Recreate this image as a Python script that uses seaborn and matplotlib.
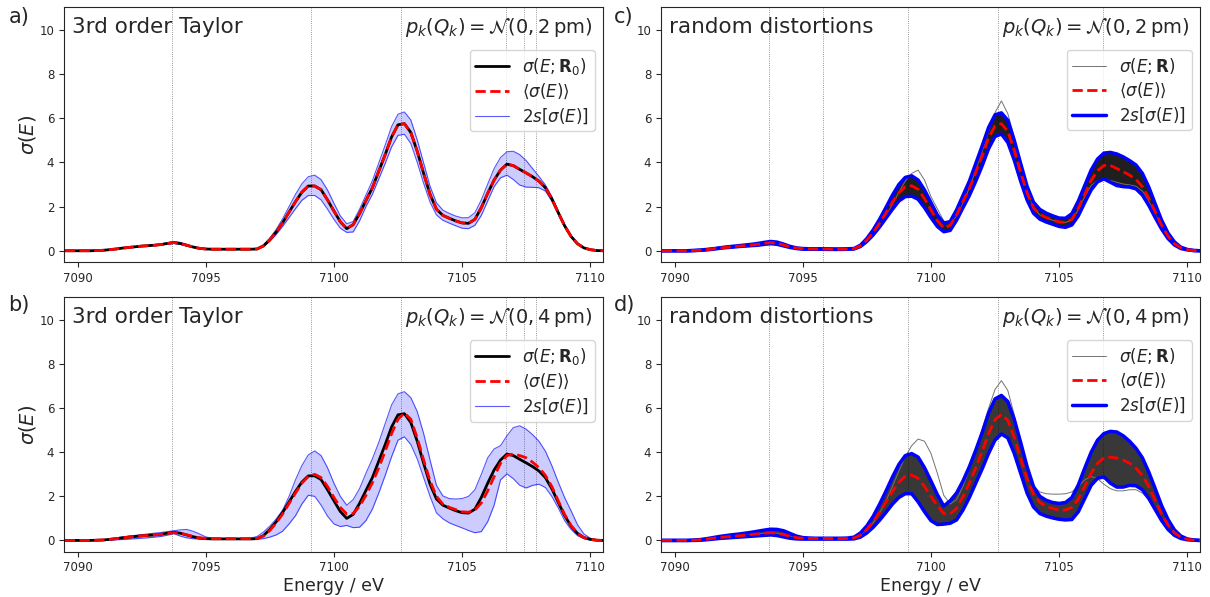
import numpy as np
import seaborn as sns
import matplotlib.pyplot as plt
from matplotlib.lines import Line2D

sns.set_style("ticks")
plt.rcParams['font.family'] = ['DejaVu Sans']
plt.rcParams['mathtext.fontset'] = 'dejavusans'

# Energy grid (eV), 0.25 eV steps
energy = np.linspace(7089.5, 7110.5, 85)

# stick positions (dotted lines)
sticks_taylor = [7093.7, 7099.1, 7102.6, 7106.7, 7107.4, 7107.9]
sticks_random = [7093.7, 7095.8, 7099.1, 7102.6, 7106.7]

# reference spectrum sigma(E; R0)
sigma_r0 = [
    0, 0, 0, 0, 0, 0.01, 0.02, 0.05, 0.08, 0.12,
    0.15, 0.18, 0.21, 0.23, 0.25, 0.28, 0.33, 0.37, 0.33, 0.25,
    0.17, 0.11, 0.08, 0.07, 0.07, 0.07, 0.07, 0.07, 0.07, 0.07,
    0.08, 0.22, 0.50, 0.85, 1.27, 1.75, 2.22, 2.65, 2.93, 2.93,
    2.76, 2.30, 1.80, 1.31, 1.00, 1.18, 1.68, 2.27, 2.85, 3.60,
    4.35, 5.15, 5.70, 5.75, 5.35, 4.50, 3.50, 2.55, 1.88, 1.60,
    1.47, 1.35, 1.26, 1.24, 1.42, 1.95, 2.60, 3.20, 3.65, 3.92,
    3.85, 3.68, 3.52, 3.35, 3.15, 2.85, 2.35, 1.73, 1.13, 0.65,
    0.32, 0.13, 0.05, 0.01, 0.0]

# 3rd order Taylor, 2 pm (mean lies on top of sigma_r0)
taylor2_mean = sigma_r0
taylor2_hi = [
    0, 0, 0, 0, 0, 0.01, 0.02, 0.05, 0.09, 0.13,
    0.16, 0.19, 0.22, 0.25, 0.27, 0.31, 0.36, 0.41, 0.38, 0.29,
    0.19, 0.12, 0.09, 0.08, 0.08, 0.08, 0.08, 0.08, 0.08, 0.08,
    0.09, 0.25, 0.57, 0.97, 1.45, 2.00, 2.55, 3.03, 3.35, 3.42,
    3.22, 2.75, 2.15, 1.58, 1.22, 1.32, 1.88, 2.52, 3.17, 3.97,
    4.78, 5.62, 6.18, 6.28, 5.92, 5.02, 3.97, 2.92, 2.17, 1.84,
    1.69, 1.57, 1.49, 1.50, 1.72, 2.30, 3.02, 3.72, 4.22, 4.48,
    4.50, 4.35, 4.08, 3.72, 3.36, 2.98, 2.45, 1.80, 1.18, 0.68,
    0.34, 0.14, 0.05, 0.01, 0.0]
taylor2_lo = [
    0, 0, 0, 0, 0, 0.01, 0.02, 0.05, 0.08, 0.11,
    0.14, 0.17, 0.20, 0.22, 0.24, 0.26, 0.30, 0.33, 0.29, 0.22,
    0.15, 0.10, 0.07, 0.06, 0.06, 0.06, 0.06, 0.06, 0.06, 0.06,
    0.07, 0.19, 0.43, 0.74, 1.10, 1.50, 1.90, 2.28, 2.50, 2.50,
    2.30, 1.88, 1.42, 1.02, 0.83, 0.85, 1.35, 2.00, 2.55, 3.25,
    3.95, 4.70, 5.22, 5.27, 4.85, 4.00, 3.05, 2.20, 1.62, 1.38,
    1.25, 1.13, 1.02, 1.00, 1.15, 1.60, 2.25, 2.90, 3.30, 3.42,
    3.22, 2.97, 2.88, 2.87, 2.85, 2.70, 2.25, 1.66, 1.08, 0.62,
    0.30, 0.12, 0.04, 0.01, 0.0]

# 3rd order Taylor, 4 pm
taylor4_mean = [
    0, 0, 0, 0, 0, 0.01, 0.02, 0.05, 0.08, 0.12,
    0.15, 0.18, 0.21, 0.23, 0.25, 0.28, 0.32, 0.35, 0.33, 0.26,
    0.18, 0.12, 0.09, 0.08, 0.08, 0.08, 0.08, 0.08, 0.08, 0.08,
    0.09, 0.20, 0.45, 0.80, 1.20, 1.68, 2.15, 2.60, 2.90, 3.00,
    2.85, 2.45, 1.95, 1.50, 1.20, 1.22, 1.55, 2.05, 2.62, 3.30,
    4.05, 4.85, 5.50, 5.78, 5.50, 4.65, 3.65, 2.70, 2.00, 1.65,
    1.50, 1.40, 1.30, 1.28, 1.38, 1.70, 2.25, 2.90, 3.50, 3.85,
    3.92, 3.85, 3.75, 3.55, 3.30, 2.95, 2.45, 1.80, 1.18, 0.68,
    0.33, 0.13, 0.05, 0.01, 0.0]
taylor4_hi = [
    0, 0, 0, 0, 0, 0.01, 0.03, 0.06, 0.11, 0.16,
    0.20, 0.23, 0.26, 0.30, 0.33, 0.36, 0.40, 0.44, 0.48, 0.50,
    0.42, 0.30, 0.16, 0.10, 0.09, 0.09, 0.09, 0.09, 0.09, 0.10,
    0.18, 0.38, 0.65, 0.98, 1.38, 2.00, 2.75, 3.40, 3.88, 4.06,
    3.85, 3.30, 2.60, 2.00, 1.60, 1.85, 2.35, 3.05, 3.70, 4.45,
    5.30, 6.15, 6.65, 6.75, 6.48, 5.85, 4.85, 3.65, 2.50, 2.02,
    1.90, 1.88, 1.90, 2.00, 2.30, 3.00, 3.75, 4.15, 4.30, 4.75,
    5.12, 5.20, 5.05, 4.80, 4.50, 4.05, 3.40, 2.65, 1.95, 1.35,
    0.72, 0.30, 0.10, 0.03, 0.0]
taylor4_lo = [
    0, 0, 0, 0, 0, 0, 0.01, 0.02, 0.03, 0.04,
    0.06, 0.08, 0.10, 0.12, 0.15, 0.18, 0.24, 0.31, 0.20, 0.12,
    0.08, 0.06, 0.05, 0.05, 0.05, 0.05, 0.05, 0.05, 0.05, 0.05,
    0.05, 0.08, 0.15, 0.25, 0.42, 0.75, 1.12, 1.65, 2.05, 2.00,
    1.60, 1.10, 0.75, 0.63, 0.68, 0.58, 0.60, 0.90, 1.42, 2.15,
    2.95, 3.80, 4.55, 4.70, 4.35, 3.70, 2.85, 2.00, 1.25, 0.98,
    0.80, 0.68, 0.57, 0.45, 0.35, 0.40, 0.85, 1.60, 2.75, 3.02,
    2.80, 2.50, 2.38, 2.50, 2.55, 2.40, 2.00, 1.48, 0.90, 0.50,
    0.22, 0.08, 0.02, 0.0, 0.0]

# random distortions, 2 pm
rand2_mean = [
    0, 0, 0, 0, 0, 0.01, 0.02, 0.05, 0.08, 0.12,
    0.15, 0.18, 0.21, 0.23, 0.26, 0.29, 0.33, 0.37, 0.34, 0.26,
    0.18, 0.12, 0.09, 0.08, 0.08, 0.08, 0.08, 0.07, 0.07, 0.08,
    0.09, 0.22, 0.48, 0.83, 1.25, 1.72, 2.20, 2.62, 2.90, 2.94,
    2.78, 2.35, 1.85, 1.36, 1.03, 1.15, 1.62, 2.22, 2.82, 3.55,
    4.30, 5.10, 5.65, 5.75, 5.40, 4.55, 3.55, 2.62, 1.95, 1.65,
    1.50, 1.40, 1.30, 1.28, 1.42, 1.92, 2.55, 3.18, 3.62, 3.86,
    3.86, 3.72, 3.58, 3.42, 3.22, 2.90, 2.38, 1.76, 1.15, 0.66,
    0.32, 0.13, 0.05, 0.01, 0.0]
rand2_hi = [
    0, 0, 0, 0, 0, 0.01, 0.03, 0.06, 0.09, 0.13,
    0.17, 0.20, 0.23, 0.26, 0.29, 0.33, 0.38, 0.42, 0.39, 0.30,
    0.20, 0.13, 0.10, 0.09, 0.09, 0.09, 0.09, 0.08, 0.08, 0.09,
    0.10, 0.25, 0.55, 0.95, 1.43, 1.97, 2.52, 3.00, 3.32, 3.39,
    3.20, 2.75, 2.18, 1.62, 1.25, 1.32, 1.85, 2.50, 3.15, 3.95,
    4.75, 5.58, 6.15, 6.24, 5.90, 5.00, 3.95, 2.92, 2.20, 1.87,
    1.70, 1.58, 1.48, 1.47, 1.68, 2.25, 2.95, 3.65, 4.15, 4.42,
    4.45, 4.38, 4.25, 4.08, 3.88, 3.50, 2.88, 2.12, 1.38, 0.80,
    0.40, 0.16, 0.06, 0.01, 0.0]
rand2_lo = [
    0, 0, 0, 0, 0, 0.01, 0.02, 0.04, 0.07, 0.11,
    0.14, 0.16, 0.19, 0.21, 0.23, 0.25, 0.29, 0.32, 0.29, 0.22,
    0.15, 0.10, 0.07, 0.07, 0.07, 0.07, 0.06, 0.06, 0.06, 0.07,
    0.08, 0.19, 0.42, 0.72, 1.08, 1.48, 1.88, 2.25, 2.45, 2.47,
    2.33, 1.95, 1.50, 1.10, 0.86, 0.92, 1.38, 1.95, 2.50, 3.15,
    3.85, 4.62, 5.17, 5.28, 4.90, 4.10, 3.15, 2.30, 1.70, 1.43,
    1.30, 1.20, 1.10, 1.06, 1.17, 1.58, 2.18, 2.75, 3.12, 3.25,
    3.10, 2.95, 2.90, 2.88, 2.80, 2.52, 2.05, 1.50, 0.98, 0.55,
    0.26, 0.10, 0.04, 0.01, 0.0]
rand2_out = [
    0, 0, 0, 0, 0, 0.01, 0.02, 0.05, 0.08, 0.12,
    0.15, 0.18, 0.21, 0.23, 0.26, 0.29, 0.34, 0.38, 0.35, 0.27,
    0.18, 0.12, 0.09, 0.08, 0.08, 0.08, 0.08, 0.07, 0.07, 0.08,
    0.09, 0.20, 0.42, 0.74, 1.12, 1.58, 2.10, 2.65, 3.15, 3.50,
    3.65, 3.20, 2.45, 1.90, 1.35, 1.28, 1.55, 2.15, 2.85, 3.65,
    4.50, 5.40, 6.25, 6.78, 6.20, 5.15, 3.95, 2.80, 1.95, 1.62,
    1.48, 1.38, 1.30, 1.28, 1.40, 1.85, 2.45, 2.95, 3.18, 3.22,
    3.18, 3.10, 3.02, 2.98, 2.92, 2.70, 2.25, 1.66, 1.08, 0.62,
    0.30, 0.12, 0.04, 0.01, 0.0]

# random distortions, 4 pm
rand4_mean = [
    0, 0, 0, 0, 0, 0.01, 0.03, 0.06, 0.10, 0.13,
    0.16, 0.19, 0.21, 0.24, 0.27, 0.30, 0.33, 0.35, 0.33, 0.27,
    0.19, 0.13, 0.10, 0.09, 0.09, 0.09, 0.09, 0.08, 0.08, 0.09,
    0.11, 0.24, 0.50, 0.86, 1.28, 1.75, 2.22, 2.64, 2.92, 2.96,
    2.82, 2.45, 2.00, 1.58, 1.22, 1.20, 1.45, 1.98, 2.60, 3.30,
    4.05, 4.85, 5.48, 5.72, 5.45, 4.68, 3.72, 2.80, 2.10, 1.72,
    1.55, 1.45, 1.38, 1.38, 1.50, 1.88, 2.45, 3.05, 3.50, 3.75,
    3.78, 3.74, 3.65, 3.50, 3.28, 2.95, 2.45, 1.82, 1.20, 0.70,
    0.35, 0.14, 0.05, 0.01, 0.0]
rand4_hi = [
    0, 0, 0, 0, 0, 0.02, 0.04, 0.08, 0.13, 0.18,
    0.22, 0.26, 0.29, 0.33, 0.37, 0.42, 0.47, 0.51, 0.50, 0.44,
    0.32, 0.20, 0.13, 0.11, 0.10, 0.10, 0.10, 0.10, 0.10, 0.11,
    0.15, 0.34, 0.66, 1.10, 1.65, 2.25, 2.88, 3.45, 3.85, 3.94,
    3.78, 3.30, 2.70, 2.08, 1.56, 1.80, 2.15, 2.70, 3.35, 4.10,
    4.90, 5.78, 6.42, 6.58, 6.30, 5.50, 4.45, 3.35, 2.45, 2.00,
    1.82, 1.72, 1.68, 1.72, 1.95, 2.52, 3.28, 4.00, 4.55, 4.85,
    4.95, 4.92, 4.75, 4.50, 4.18, 3.75, 3.10, 2.35, 1.58, 0.95,
    0.48, 0.20, 0.07, 0.02, 0.0]
rand4_lo = [
    0, 0, 0, 0, 0, 0, 0.01, 0.03, 0.06, 0.09,
    0.11, 0.13, 0.15, 0.17, 0.19, 0.21, 0.23, 0.25, 0.22, 0.16,
    0.10, 0.07, 0.06, 0.06, 0.06, 0.06, 0.06, 0.06, 0.06, 0.06,
    0.07, 0.15, 0.34, 0.60, 0.92, 1.28, 1.65, 1.95, 2.12, 2.12,
    1.75, 1.30, 0.90, 0.72, 0.74, 0.78, 0.93, 1.38, 1.95, 2.60,
    3.25, 3.95, 4.55, 4.83, 4.65, 3.95, 3.05, 2.15, 1.52, 1.22,
    1.10, 1.02, 0.96, 0.93, 0.95, 1.30, 1.90, 2.50, 2.82, 2.88,
    2.60, 2.42, 2.42, 2.50, 2.48, 2.30, 1.90, 1.40, 0.90, 0.50,
    0.23, 0.09, 0.03, 0.01, 0.0]
rand4_out = [
    0, 0, 0, 0, 0, 0.01, 0.03, 0.06, 0.10, 0.13,
    0.16, 0.19, 0.21, 0.24, 0.27, 0.30, 0.33, 0.35, 0.33, 0.27,
    0.19, 0.13, 0.10, 0.09, 0.09, 0.09, 0.09, 0.08, 0.08, 0.09,
    0.10, 0.22, 0.45, 0.80, 1.25, 1.80, 2.45, 3.15, 3.80, 4.30,
    4.60, 4.50, 3.95, 3.05, 2.05, 1.65, 1.85, 2.45, 3.25, 4.15,
    5.05, 6.00, 6.85, 7.25, 6.80, 5.70, 4.40, 3.20, 2.45, 2.20,
    2.12, 2.10, 2.10, 2.12, 2.20, 2.45, 2.75, 2.90, 2.80, 2.55,
    2.35, 2.25, 2.25, 2.30, 2.30, 2.15, 1.85, 1.40, 0.92, 0.52,
    0.24, 0.09, 0.03, 0.01, 0.0]

fig = plt.figure(figsize=(12.1, 5.97), dpi=100)
ax_a = fig.add_axes([0.0529, 0.5611, 0.4455, 0.4272])
ax_c = fig.add_axes([0.5463, 0.5611, 0.4455, 0.4272])
ax_b = fig.add_axes([0.0529, 0.0759, 0.4455, 0.4261])
ax_d = fig.add_axes([0.5463, 0.0759, 0.4455, 0.4261])


def setup(ax, sticks, title, width):
    for e in sticks:
        ax.axvline(e, color='0.45', lw=0.6, ls=':', zorder=0)
    ax.set_xlim(7089.47, 7110.5)
    ax.set_ylim(-0.51, 11.03)
    ax.set_xticks([7090, 7095, 7100, 7105, 7110])
    ax.set_yticks(range(0, 11, 2))
    ax.tick_params(labelsize=8.5)
    ax.text(0.014, 0.898, title, transform=ax.transAxes, fontsize=15.5,
            ha='left', va='baseline')
    ax.text(0.981, 0.898, r'$p_k(Q_k) = \mathcal{N}(0, %d\,\mathrm{pm})$' % width,
            transform=ax.transAxes, fontsize=14, ha='right', va='baseline')


def add_legend(ax, handles, labels):
    ax.legend(handles, labels, loc='upper right', bbox_to_anchor=(1.0, 0.864),
              fontsize=12, frameon=True, framealpha=0.8, edgecolor='0.8',
              fancybox=True, labelspacing=0.3, borderpad=0.35)


def taylor_panel(ax, mean, lo, hi, width):
    setup(ax, sticks_taylor, '3rd order Taylor', width)
    ax.fill_between(energy, lo, hi, color='blue', alpha=0.2, lw=0, zorder=1)
    sns.lineplot(x=energy, y=lo, ax=ax, color='blue', linewidth=0.8, alpha=0.65, zorder=2)
    sns.lineplot(x=energy, y=hi, ax=ax, color='blue', linewidth=0.8, alpha=0.65, zorder=2)
    sns.lineplot(x=energy, y=sigma_r0, ax=ax, color='black', linewidth=2, zorder=3)
    sns.lineplot(x=energy, y=mean, ax=ax, color='red', linewidth=2, linestyle='--', zorder=4)
    handles = [Line2D([], [], color='black', lw=2),
               Line2D([], [], color='red', lw=2, ls='--'),
               Line2D([], [], color='blue', lw=0.8, alpha=0.65)]
    labels = [r'$\sigma(E;\mathbf{R}_0)$', r'$\langle\sigma(E)\rangle$', r'$2s[\sigma(E)]$']
    add_legend(ax, handles, labels)
    ax.set_ylabel(r'$\sigma(E)$', fontsize=14, labelpad=1)


def random_panel(ax, mean, lo, hi, out, width, band_alpha):
    setup(ax, sticks_random, 'random distortions', width)
    ax.fill_between(energy, lo, hi, color='black', alpha=band_alpha, lw=0, zorder=1)
    sns.lineplot(x=energy, y=out, ax=ax, color='0.45', linewidth=0.7, zorder=2)
    sns.lineplot(x=energy, y=lo, ax=ax, color='blue', linewidth=2.5, zorder=3)
    sns.lineplot(x=energy, y=hi, ax=ax, color='blue', linewidth=2.5, zorder=3)
    sns.lineplot(x=energy, y=mean, ax=ax, color='red', linewidth=2, linestyle='--', zorder=4)
    handles = [Line2D([], [], color='0.45', lw=0.7),
               Line2D([], [], color='red', lw=2, ls='--'),
               Line2D([], [], color='blue', lw=2.5)]
    labels = [r'$\sigma(E;\mathbf{R})$', r'$\langle\sigma(E)\rangle$', r'$2s[\sigma(E)]$']
    add_legend(ax, handles, labels)


taylor_panel(ax_a, taylor2_mean, taylor2_lo, taylor2_hi, 2)
taylor_panel(ax_b, taylor4_mean, taylor4_lo, taylor4_hi, 4)
random_panel(ax_c, rand2_mean, rand2_lo, rand2_hi, rand2_out, 2, 0.88)
random_panel(ax_d, rand4_mean, rand4_lo, rand4_hi, rand4_out, 4, 0.78)

ax_b.set_xlabel('Energy / eV', fontsize=12.5, labelpad=2)
ax_d.set_xlabel('Energy / eV', fontsize=12.5, labelpad=2)

fig.text(0.007, 0.988, 'a)', fontsize=15, va='top')
fig.text(0.007, 0.506, 'b)', fontsize=15, va='top')
fig.text(0.507, 0.988, 'c)', fontsize=15, va='top')
fig.text(0.507, 0.506, 'd)', fontsize=15, va='top')

fig.savefig('out.png', dpi=100)
